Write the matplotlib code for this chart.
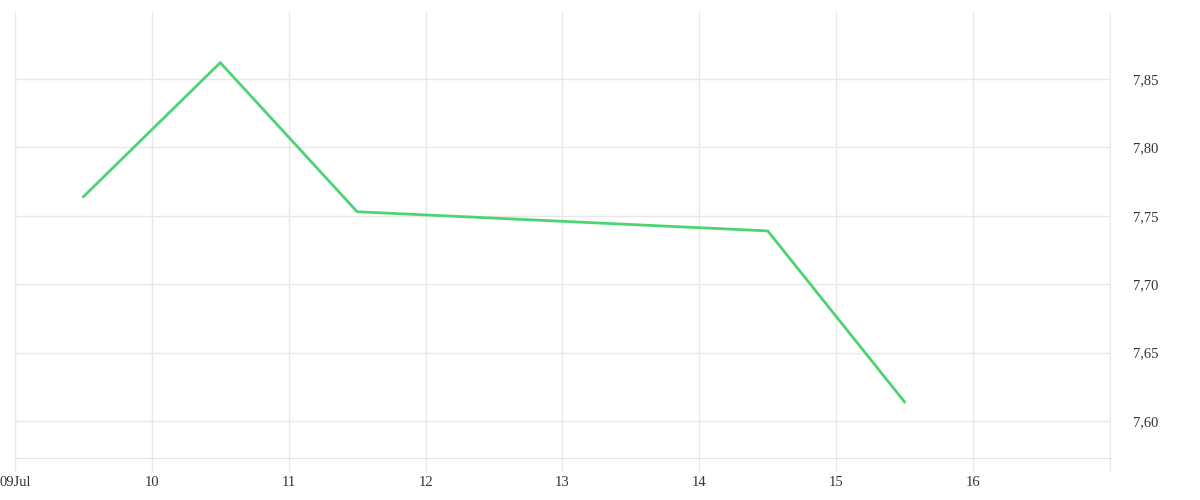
import matplotlib
matplotlib.use("Agg")
import matplotlib.pyplot as plt

# days of July, points sit in the middle of each day
days = [9.5, 10.5, 11.5, 14.5, 15.5]
values = [7.764, 7.862, 7.753, 7.739, 7.614]

x_ticks = [9, 10, 11, 12, 13, 14, 15, 16, 17]
x_labels = ["09Jul", "10", "11", "12", "13", "14", "15", "16", ""]
y_ticks = [7.60, 7.65, 7.70, 7.75, 7.80, 7.85]

grid_col = "#e8e8e8"

plt.rcParams["font.family"] = ["Liberation Serif", "DejaVu Serif"]

fig = plt.figure(figsize=(12, 5), dpi=100)
ax = fig.add_axes([0.0125, 0.084, 0.9135, 0.892])

ax.plot(days, values, color="#4cd472", linewidth=2)

ax.set_xlim(9, 17.01)
ax.set_ylim(7.573, 7.899)

ax.set_xticks(x_ticks)
ax.set_xticklabels(x_labels)
ax.set_yticks(y_ticks)
ax.set_yticklabels([f"{v:.2f}".replace(".", ",") for v in y_ticks])

ax.yaxis.tick_right()
ax.tick_params(axis="x", length=10, color=grid_col, width=1, labelsize=10.5, labelcolor="#333333", pad=3)
ax.tick_params(axis="y", length=0, labelsize=10.5, labelcolor="#333333", pad=16)

ax.grid(True, color=grid_col, linewidth=1)
ax.set_axisbelow(True)

for side in ["top", "left", "right"]:
    ax.spines[side].set_visible(False)
ax.spines["bottom"].set_color("#e4e4e4")

fig.savefig("out.png", dpi=100)
